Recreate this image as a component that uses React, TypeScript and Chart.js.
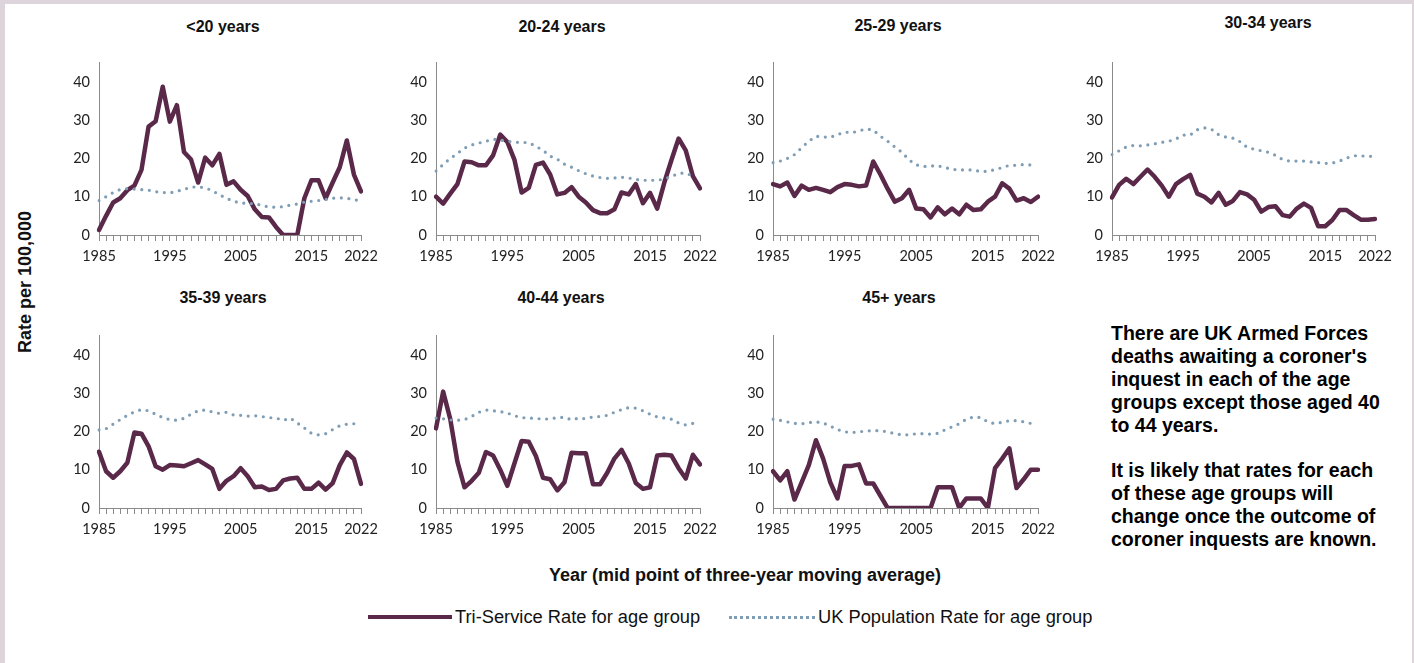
import React, { useEffect, useRef } from "react";
import { Chart, registerables } from "chart.js";

Chart.register(...registerables);

// ---------------- DATA ----------------
const YEARS = [
  1985, 1986, 1987, 1988, 1989, 1990, 1991, 1992, 1993, 1994,
  1995, 1996, 1997, 1998, 1999, 2000, 2001, 2002, 2003, 2004,
  2005, 2006, 2007, 2008, 2009, 2010, 2011, 2012, 2013, 2014,
  2015, 2016, 2017, 2018, 2019, 2020, 2021, 2022,
];
const TICK_YEARS = [1985, 1995, 2005, 2015, 2022];
const Y_TICKS = [0, 10, 20, 30, 40];

const PANEL_TITLES = [
  "<20 years",
  "20-24 years",
  "25-29 years",
  "30-34 years",
  "35-39 years",
  "40-44 years",
  "45+ years",
];

const SERIES_LABELS = [
  "Tri-Service Rate for age group",
  "UK Population Rate for age group",
];

// Tri-Service rate per 100,000
const TRI_U20 = [1.3, 5.0, 8.5, 9.6, 11.7, 12.9, 17.0, 28.3, 29.7, 38.7, 29.6, 33.9, 21.7, 19.7, 13.7, 20.2, 18.2, 21.2, 13.1, 14.0, 11.8, 10.2, 6.7, 4.7, 4.6, 2.1, 0, 0, 0, 9.6, 14.3, 14.3, 9.6, 13.7, 17.7, 24.7, 15.8, 11.4];
const TRI_2024 = [10.0, 8.2, 10.8, 13.3, 19.2, 19.0, 18.2, 18.2, 20.8, 26.2, 24.3, 19.6, 11.1, 12.3, 18.3, 18.9, 15.8, 10.6, 11.0, 12.5, 10.0, 8.5, 6.5, 5.7, 5.7, 6.7, 11.1, 10.6, 13.3, 8.3, 11.0, 6.9, 13.7, 19.6, 25.2, 22.1, 15.4, 12.2];
const TRI_2529 = [13.3, 12.7, 13.7, 10.2, 12.9, 11.8, 12.3, 11.8, 11.2, 12.5, 13.3, 13.1, 12.7, 12.9, 19.2, 15.8, 12.1, 8.7, 9.6, 11.8, 6.9, 6.7, 4.6, 7.2, 5.4, 6.9, 5.4, 7.9, 6.5, 6.7, 8.7, 10.0, 13.5, 12.1, 9.0, 9.6, 8.6, 10.0];
const TRI_3034 = [9.8, 13.1, 14.7, 13.3, 15.2, 17.1, 15.2, 12.9, 10.0, 13.3, 14.6, 15.7, 10.8, 10.0, 8.5, 11.0, 7.9, 8.9, 11.2, 10.6, 9.2, 6.1, 7.3, 7.5, 5.2, 4.8, 6.9, 8.2, 7.1, 2.3, 2.3, 3.9, 6.5, 6.5, 5.2, 4.0, 4.0, 4.2];
const TRI_3539 = [14.7, 9.6, 7.9, 9.6, 11.8, 19.7, 19.4, 16.1, 10.9, 10.0, 11.2, 11.1, 10.9, 11.7, 12.5, 11.4, 10.2, 5.0, 7.1, 8.3, 10.4, 8.3, 5.4, 5.6, 4.7, 5.0, 7.2, 7.7, 7.9, 5.0, 5.0, 6.6, 4.8, 6.5, 11.2, 14.5, 12.8, 6.3];
const TRI_4044 = [20.8, 30.4, 23.2, 12.1, 5.4, 7.1, 9.2, 14.6, 13.7, 10.0, 5.8, 11.7, 17.5, 17.3, 13.6, 7.9, 7.5, 4.6, 6.7, 14.4, 14.3, 14.3, 6.2, 6.2, 9.2, 12.9, 15.2, 11.7, 6.5, 5.0, 5.4, 13.7, 13.9, 13.7, 10.4, 7.7, 13.9, 11.4];
const TRI_45 = [9.6, 7.2, 9.6, 2.2, 6.7, 11.2, 17.7, 12.9, 6.7, 2.5, 11.0, 11.0, 11.4, 6.4, 6.4, 3.2, 0, 0, 0, 0, 0, 0, 0, 5.4, 5.4, 5.4, 0, 2.5, 2.5, 2.5, 0, 10.4, 12.9, 15.6, 5.2, 7.5, 10.0, 10.0];

// UK population rate per 100,000
const UK_U20 = [9.0, 10.0, 11.1, 11.9, 12.1, 12.0, 11.85, 11.7, 11.3, 11.1, 11.0, 11.4, 11.9, 12.5, 12.6, 12.3, 11.6, 10.5, 9.6, 8.8, 8.4, 8.2, 8.2, 7.7, 7.3, 7.25, 7.4, 7.8, 8.1, 8.6, 8.8, 9.0, 9.25, 9.6, 9.7, 9.6, 9.2, 9.0];
const UK_2024 = [16.7, 18.4, 20.0, 21.3, 22.7, 23.5, 24.0, 24.5, 25.0, 24.8, 24.5, 24.2, 24.2, 24.1, 23.2, 22.1, 20.6, 19.8, 18.5, 17.7, 16.8, 16.0, 15.4, 15.0, 14.8, 14.9, 15.1, 14.9, 14.5, 14.3, 14.3, 14.3, 14.6, 15.3, 16.1, 16.2, 15.4, null];
const UK_2529 = [18.9, 19.3, 20.0, 21.0, 22.8, 24.5, 25.8, 25.6, 25.5, 26.2, 26.9, 26.7, 27.2, 27.7, 27.4, 25.8, 24.5, 23.0, 21.6, 19.6, 18.3, 17.9, 18.0, 18.1, 17.6, 17.2, 16.9, 17.1, 16.9, 16.6, 16.6, 17.1, 17.6, 18.2, 18.2, 18.4, 18.3, null];
const UK_3034 = [21.0, 22.0, 23.0, 23.4, 23.3, 23.5, 23.8, 24.2, 24.5, 25.1, 26.1, 26.1, 27.5, 28.0, 27.6, 26.2, 25.6, 25.3, 24.4, 22.9, 22.4, 22.0, 21.6, 20.8, 19.7, 19.3, 19.3, 19.3, 19.1, 18.9, 18.7, 18.8, 19.3, 20.1, 20.7, 20.7, 20.5, 20.6];
const UK_3539 = [20.4, 20.7, 21.9, 23.1, 24.2, 25.1, 25.7, 25.4, 24.5, 23.6, 23.1, 22.9, 23.4, 24.5, 25.4, 25.6, 25.1, 24.7, 25.0, 24.3, 24.2, 24.0, 24.1, 23.9, 23.6, 23.5, 22.9, 23.5, 22.2, 20.9, 19.5, 19.1, 19.4, 20.5, 21.5, 21.9, 22.0, 22.1];
const UK_4044 = [23.5, 23.3, 23.0, 22.9, 23.1, 23.9, 25.0, 25.6, 25.4, 25.2, 24.8, 24.1, 23.6, 23.5, 23.4, 23.2, 23.3, 23.6, 23.7, 23.0, 23.5, 23.3, 23.8, 23.9, 24.2, 25.0, 25.7, 26.2, 26.1, 25.4, 24.5, 23.8, 23.5, 23.2, 22.2, 21.7, 22.1, null];
const UK_45 = [23.2, 22.9, 22.5, 22.1, 22.0, 22.3, 22.5, 22.2, 21.4, 20.5, 19.9, 19.7, 19.9, 20.1, 20.2, 20.2, 19.9, 19.4, 19.1, 19.1, 19.4, 19.4, 19.3, 19.5, 20.4, 21.2, 22.0, 23.2, 23.8, 23.6, 22.5, 22.0, 22.4, 22.8, 22.8, 22.5, 22.1, null];

const TRI_SERIES = [TRI_U20, TRI_2024, TRI_2529, TRI_3034, TRI_3539, TRI_4044, TRI_45];
const UK_SERIES = [UK_U20, UK_2024, UK_2529, UK_3034, UK_3539, UK_4044, UK_45];

const NOTE_PARAS = [
  ["There are UK Armed Forces", "deaths awaiting a coroner's", "inquest in each of the age", "groups except those aged 40", "to 44 years."],
  ["It is likely that rates for each", "of these age groups will", "change once the outcome of", "coroner inquests are known."],
];

// ---------------- STYLE / LAYOUT ----------------
const SOLID = "#5a2848";
const DOTTED = "#7f9db4";
const AXIS = "#8a8a8a";
const TICK_COLOR = "#222222";
const FRAME = "#ddd5db";
const ARIAL = "'Liberation Sans', Arial, sans-serif";
const TICK_FONT = "Lato, 'Liberation Sans', sans-serif";

const PLOT_H = 180;
const YW = 46;
const PT = 10;
const PR = 24;
const XH = 34;

const PANELS = [
  { left: 99, top: 55, width: 262, tx: 223, ty: 27 },
  { left: 436, top: 55, width: 264, tx: 562, ty: 27 },
  { left: 773, top: 55, width: 265, tx: 898, ty: 26 },
  { left: 1112, top: 55, width: 263, tx: 1268, ty: 23 },
  { left: 99, top: 328, width: 262, tx: 223, ty: 298 },
  { left: 436, top: 328, width: 264, tx: 561, ty: 298 },
  { left: 773, top: 328, width: 265, tx: 899, ty: 298 },
];

function Panel(props: { idx: number }) {
  const { idx } = props;
  const p = PANELS[idx];
  const ref = useRef<HTMLCanvasElement | null>(null);
  const w = YW + p.width + PR;
  const h = PT + PLOT_H + XH;

  useEffect(() => {
    if (!ref.current) return;
    const chart = new Chart(ref.current, {
      type: "line",
      data: {
        labels: YEARS.map(String),
        datasets: [
          {
            label: SERIES_LABELS[0],
            data: TRI_SERIES[idx],
            borderColor: SOLID,
            backgroundColor: SOLID,
            borderWidth: 4.5,
            pointRadius: 0,
            tension: 0,
            borderJoinStyle: "round",
            borderCapStyle: "round",
            order: 1,
          },
          {
            label: SERIES_LABELS[1],
            data: UK_SERIES[idx],
            borderColor: DOTTED,
            backgroundColor: DOTTED,
            borderWidth: 3.2,
            borderDash: [0, 7.6],
            borderCapStyle: "round",
            pointRadius: 0,
            tension: 0,
            order: 0,
          },
        ],
      },
      options: {
        responsive: false,
        maintainAspectRatio: false,
        animation: false,
        events: [],
        layout: { padding: { top: PT, right: PR, left: 0, bottom: 0 } },
        plugins: {
          legend: { display: false },
          tooltip: { enabled: false },
          title: { display: false },
        },
        scales: {
          x: {
            type: "category",
            offset: false,
            grid: {
              display: true,
              drawOnChartArea: false,
              drawTicks: true,
              tickLength: 6,
              color: AXIS,
              lineWidth: 1,
            },
            border: { display: true, color: AXIS, width: 1 },
            ticks: {
              autoSkip: false,
              maxRotation: 0,
              minRotation: 0,
              padding: 7,
              color: TICK_COLOR,
              font: { family: TICK_FONT, size: 14.5 },
              callback: (_v: any, i: number) =>
                TICK_YEARS.includes(YEARS[i]) ? String(YEARS[i]) : "",
            },
            afterFit: (s: any) => {
              s.height = XH;
            },
          },
          y: {
            min: 0,
            max: 45,
            grid: { display: false, drawTicks: false },
            border: { display: true, color: AXIS, width: 1 },
            ticks: {
              stepSize: 10,
              padding: 9,
              color: TICK_COLOR,
              font: { family: TICK_FONT, size: 14.5 },
            },
            afterBuildTicks: (s: any) => {
              s.ticks = Y_TICKS.map((v) => ({ value: v }));
            },
            afterFit: (s: any) => {
              s.width = YW;
            },
          },
        },
      } as any,
    });
    return () => chart.destroy();
  }, [idx]);

  return (
    <>
      <div
        style={{
          position: "absolute",
          left: p.tx,
          top: p.ty,
          transform: "translate(-50%, -50%)",
          whiteSpace: "nowrap",
          fontFamily: ARIAL,
          fontWeight: "bold",
          fontSize: 16,
          color: "#111",
        }}
      >
        {PANEL_TITLES[idx]}
      </div>
      <canvas
        ref={ref}
        width={w}
        height={h}
        style={{
          position: "absolute",
          left: p.left - YW,
          top: p.top - PT,
          width: w,
          height: h,
        }}
      />
    </>
  );
}

export default function App() {
  return (
    <div
      style={{
        position: "fixed",
        left: 0,
        top: 0,
        width: 1414,
        height: 663,
        background: FRAME,
        overflow: "hidden",
      }}
    >
      <div
        style={{
          position: "absolute",
          left: 5,
          top: 4,
          width: 1414 - 5 - 2,
          height: 663 - 4,
          background: "#ffffff",
        }}
      />
      {PANELS.map((_, i) => (
        <Panel key={i} idx={i} />
      ))}

      {/* y-axis title */}
      <div
        style={{
          position: "absolute",
          left: 25,
          top: 282,
          transform: "translate(-50%, -50%) rotate(-90deg)",
          whiteSpace: "nowrap",
          fontFamily: ARIAL,
          fontWeight: "bold",
          fontSize: 18,
          color: "#111",
        }}
      >
        Rate per 100,000
      </div>

      {/* x-axis title */}
      <div
        style={{
          position: "absolute",
          left: 745,
          top: 575,
          transform: "translate(-50%, -50%)",
          whiteSpace: "nowrap",
          fontFamily: ARIAL,
          fontWeight: "bold",
          fontSize: 18,
          color: "#111",
        }}
      >
        Year (mid point of three-year moving average)
      </div>

      {/* legend */}
      <div
        style={{
          position: "absolute",
          left: 368,
          top: 617 - 2.25,
          width: 84,
          height: 0,
          borderTop: `4.5px solid ${SOLID}`,
        }}
      />
      <div
        style={{
          position: "absolute",
          left: 455,
          top: 617,
          transform: "translateY(-50%)",
          whiteSpace: "nowrap",
          fontFamily: ARIAL,
          fontSize: 18.3,
          color: "#111",
        }}
      >
        {SERIES_LABELS[0]}
      </div>
      <div
        style={{
          position: "absolute",
          left: 729,
          top: 617 - 1.5,
          width: 86,
          height: 0,
          borderTop: `3px dotted ${DOTTED}`,
        }}
      />
      <div
        style={{
          position: "absolute",
          left: 818,
          top: 617,
          transform: "translateY(-50%)",
          whiteSpace: "nowrap",
          fontFamily: ARIAL,
          fontSize: 18.3,
          color: "#111",
        }}
      >
        {SERIES_LABELS[1]}
      </div>

      {/* note text */}
      <div
        style={{
          position: "absolute",
          left: 1111,
          top: 322,
          fontFamily: ARIAL,
          fontWeight: "bold",
          fontSize: 19.5,
          lineHeight: "22.9px",
          color: "#000",
          whiteSpace: "nowrap",
        }}
      >
        {NOTE_PARAS.map((para, pi) => (
          <div key={pi} style={{ marginTop: pi === 0 ? 0 : 22.9 }}>
            {para.map((line, li) => (
              <div key={li}>{line}</div>
            ))}
          </div>
        ))}
      </div>
    </div>
  );
}
